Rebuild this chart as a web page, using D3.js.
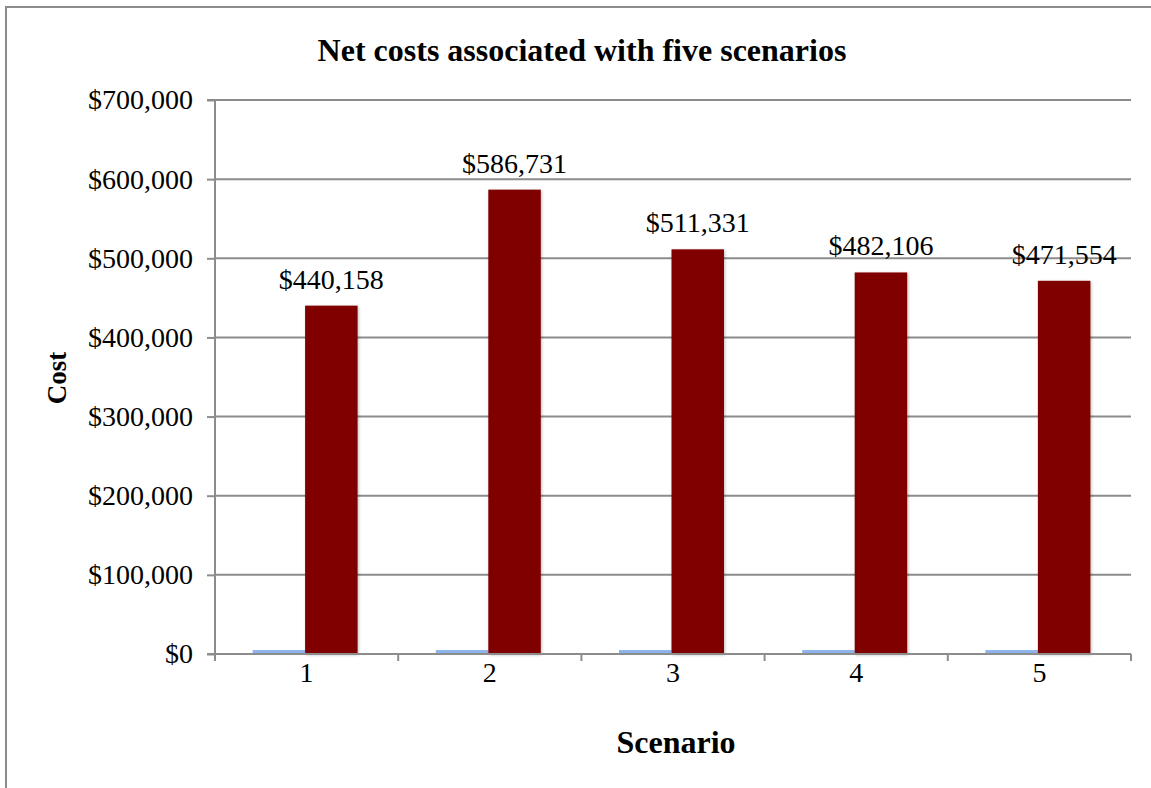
<!DOCTYPE html>
<html><head><meta charset="utf-8">
<script src="https://cdn.jsdelivr.net/npm/d3@7"></script>
<style>html,body{margin:0;padding:0;background:#fff;}svg{display:block;}
text{font-family:"Liberation Serif","Times New Roman",serif;}
</style>
</head><body>
<svg id="c" width="1151" height="788"></svg>
<script>
const categories = ["1","2","3","4","5"];
const seriesA = [5000, 5000, 5000, 5000, 5000];
const seriesB = [440158, 586731, 511331, 482106, 471554];
const yTicks = [0,100000,200000,300000,400000,500000,600000,700000];
const title = "Net costs associated with five scenarios";
const xTitle = "Scenario";
const yTitle = "Cost";

const svg = d3.select("#c");
const gridColor = "#8c8c8c";

const defs = svg.append("defs");
const f = defs.append("filter").attr("id","sh").attr("x","-20%").attr("y","-5%").attr("width","140%").attr("height","110%");
f.append("feDropShadow").attr("dx",1).attr("dy",1).attr("stdDeviation",1.5).attr("flood-color","#000").attr("flood-opacity",0.25);

// outer border
svg.append("rect").attr("x",6).attr("y",7).attr("width",1160).attr("height",800)
  .attr("fill","none").attr("stroke",gridColor).attr("stroke-width",2);

const L = 215, R = 1131, T = 100, B = 654;
const y = d3.scaleLinear().domain([0,700000]).range([B,T]);
const x = d3.scaleBand().domain(categories).range([L,R]);
const bw = 52.5;
const sub = d3.scaleBand().domain(["a","b"]).range([x.bandwidth()/2 - bw - 1.5, x.bandwidth()/2 + bw - 1.5]);

// gridlines
svg.append("g").selectAll("line").data(yTicks.filter(d=>d>0)).join("line")
  .attr("x1",L).attr("x2",R).attr("y1",d=>y(d)).attr("y2",d=>y(d))
  .attr("stroke",gridColor).attr("stroke-width",2);

// y axis
const ya = svg.append("g").attr("transform",`translate(${L},0)`)
  .call(d3.axisLeft(y).tickValues(yTicks).tickSize(8).tickPadding(14).tickFormat(d=>"$"+d3.format(",")(d)));
ya.attr("font-family",null).attr("font-size",null);
ya.select(".domain").attr("stroke",gridColor).attr("stroke-width",2).attr("d",`M-8,${T}H0V${B+7}`);
ya.selectAll(".tick line").attr("stroke",gridColor).attr("stroke-width",2);
ya.selectAll(".tick text").style("font-size","28px").attr("fill","#000");

// bars
const g = svg.append("g");
g.selectAll("rect.a").data(categories).join("rect").attr("class","a")
  .attr("x",(d)=>x(d)+sub("a")).attr("width",sub.bandwidth())
  .attr("y",(d,i)=>y(seriesA[i])).attr("height",(d,i)=>y(0)-y(seriesA[i]))
  .attr("fill","#8db4ea");
g.selectAll("rect.b").data(categories).join("rect").attr("class","b")
  .attr("x",(d)=>x(d)+sub("b")).attr("width",sub.bandwidth())
  .attr("y",(d,i)=>y(seriesB[i])).attr("height",(d,i)=>y(0)-y(seriesB[i]))
  .attr("fill","#800000").attr("filter","url(#sh)");

// data labels
g.selectAll("text.lbl").data(categories).join("text").attr("class","lbl")
  .attr("x",d=>x(d)+sub("b")+sub.bandwidth()/2)
  .attr("y",(d,i)=>y(seriesB[i])-17)
  .attr("text-anchor","middle").style("font-size","28px").attr("fill","#000")
  .text((d,i)=>"$"+d3.format(",")(seriesB[i]));

// x axis
const xa = svg.append("g").attr("transform",`translate(0,${B})`);
xa.append("line").attr("x1",L-8).attr("x2",R).attr("y1",0).attr("y2",0).attr("stroke",gridColor).attr("stroke-width",2);
const bounds = categories.map(c=>x(c)).concat([R]);
xa.selectAll("line.t").data(bounds).join("line").attr("class","t")
  .attr("x1",d=>d).attr("x2",d=>d).attr("y1",0).attr("y2",7).attr("stroke",gridColor).attr("stroke-width",2);
xa.selectAll("text").data(categories).join("text")
  .attr("x",d=>x(d)+x.bandwidth()/2).attr("y",28)
  .attr("text-anchor","middle").style("font-size","28px").attr("fill","#000")
  .text(d=>d);

// titles
svg.append("text").attr("x",582).attr("y",61).attr("text-anchor","middle")
  .style("font-weight","700").style("font-size","32px").text(title);
svg.append("text").attr("x",676).attr("y",753).attr("text-anchor","middle")
  .style("font-weight","700").style("font-size","32px").text(xTitle);
svg.append("text").attr("transform","translate(66,378) rotate(-90)").attr("text-anchor","middle")
  .style("font-weight","700").style("font-size","27px").text(yTitle);
</script>
</body></html>
